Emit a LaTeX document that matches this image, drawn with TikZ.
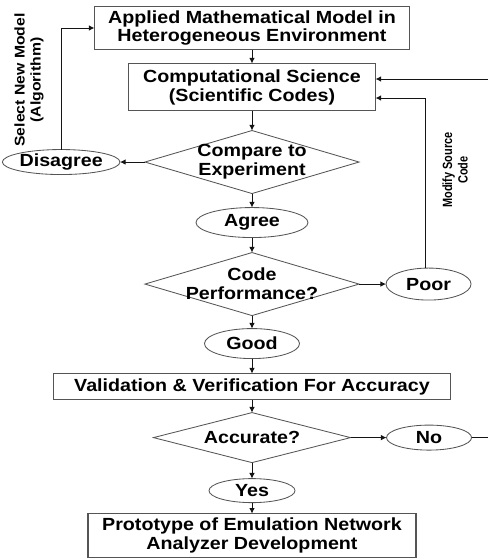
\documentclass[tikz,border=0pt]{standalone}
\usepackage{fontspec}
\setmainfont{Liberation Sans}[FakeStretch=1.12]
\newfontfamily\narrowfont{Liberation Sans}[FakeStretch=0.82]
\usetikzlibrary{shapes.geometric, arrows.meta, positioning}
\usepackage{xcolor}
\definecolor{flowline}{RGB}{20, 20, 20}
\definecolor{flowedge}{RGB}{85, 85, 85}
\tikzset{
  tbox/.style={
    rectangle, draw=flowedge, line width=0.9pt,
    align=center, inner sep=0pt, outer sep=0pt,
    font=\fontsize{12.5}{13.5}\selectfont\bfseries
  },
  dbox/.style={
    diamond, draw=flowedge, line width=0.6pt, inner sep=0pt, outer sep=0pt
  },
  dtxt/.style={
    align=center, inner sep=0pt,
    font=\fontsize{12.5}{13.5}\selectfont\bfseries
  },
  obox/.style={
    ellipse, draw=flowedge, line width=0.6pt, inner sep=0pt, outer sep=0pt,
    font=\fontsize{12.5}{13.5}\selectfont\bfseries
  },
  vlbl/.style={
    rotate=90, align=center, inner sep=0pt
  },
  arr/.style={-{Latex[length=4pt, width=4pt]}, line width=0.7pt, color=flowline},
}

\begin{document}
\begin{tikzpicture}[x=0.025cm, y=-0.025cm]
    \useasboundingbox (0,0) rectangle (487,559);

    \node[tbox, minimum width=7.875cm, minimum height=1.075cm] (amm) at (252,28)
      {Applied Mathematical Model in\\Heterogeneous Environment};
    \node[tbox, minimum width=6.175cm, minimum height=1.175cm, below=0.35cm of amm] (csc)
      {Computational Science\\(Scientific Codes)};
    \node[dbox, minimum width=5.35cm, minimum height=1.575cm, below=0.5cm of csc,
      label={[dtxt]center:Compare to\\Experiment}] (cmp) {};
    \node[obox, minimum width=2.8cm, minimum height=0.75cm, below=0.35cm of cmp] (agr) {Agree};
    \node[dbox, minimum width=5.35cm, minimum height=1.575cm, below=0.375cm of agr,
      label={[dtxt]center:Code\\Performance?}] (perf) {};
    \node[obox, minimum width=2.375cm, minimum height=0.75cm, below=0.325cm of perf] (good) {Good};
    \node[tbox, minimum width=9.925cm, minimum height=0.65cm, below=0.375cm of good] (val)
      {Validation \& Verification For Accuracy};
    \node[dbox, minimum width=4.925cm, minimum height=1.25cm, below=0.325cm of val,
      label={[dtxt]center:Accurate?}] (acc) {};
    \node[obox, minimum width=2.15cm, minimum height=0.6cm, below=0.4cm of acc] (yes) {Yes};
    \node[tbox, minimum width=8.2cm, minimum height=1.1cm, below=0.275cm of yes] (proto)
      {Prototype of Emulation Network\\Analyzer Development};

    \node[obox, minimum width=2.85cm, minimum height=0.625cm, left=0.625cm of cmp] (dis) {Disagree};
    \node[obox, minimum width=2.125cm, minimum height=0.8cm, right=0.675cm of perf] (poor) {Poor};
    \node[obox, minimum width=2.125cm, minimum height=0.625cm, right=0.9cm of acc] (no) {No};

    \node[vlbl, font=\fontsize{10}{11.5}\selectfont\bfseries] (newlbl) at (29,80)
      {Select New Model\\(Algorithm)};
    \node[vlbl, font=\fontsize{9.5}{11}\narrowfont\bfseries] (srclbl) at (455,170)
      {Modify Source\\Code};

    \draw[arr] (amm)--(csc); \draw[arr] (csc)--(cmp);
    \draw[arr] (cmp)--(agr); \draw[arr] (agr)--(perf);
    \draw[arr] (perf)--(good); \draw[arr] (good)--(val);
    \draw[arr] (val)--(acc); \draw[arr] (acc)--(yes);
    \draw[arr] (yes)--(proto);

    \draw[arr] (cmp.west)--(dis.east);
    \draw[arr] (dis.north) |- (amm.west);
    \draw[arr] (perf.east)--(poor.west);
    \draw[arr] (poor.100) |- ([yshift=-0.275cm]csc.east);
    \draw[arr] (acc.east)--(no.west);
    \draw[arr] (no.east) -- ++(0.6cm,0) coordinate (rim) |- ([yshift=0.2cm]csc.east);
  \end{tikzpicture}
\end{document}
